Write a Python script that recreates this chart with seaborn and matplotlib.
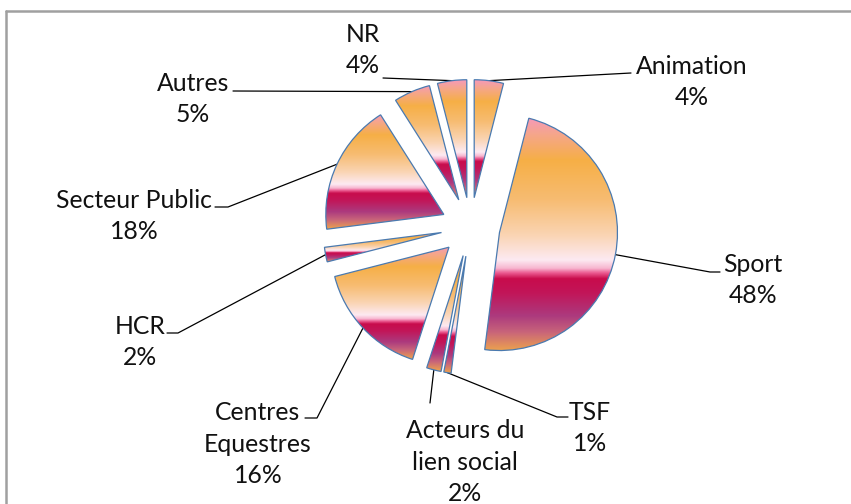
import numpy as np
import matplotlib.pyplot as plt
from matplotlib.colors import LinearSegmentedColormap
import seaborn as sns

# Data
labels = ["Animation", "Sport", "TSF", "Acteurs du\nlien social", "Centres\nEquestres",
          "HCR", "Secteur Public", "Autres", "NR"]
values = [4, 48, 1, 2, 16, 2, 18, 5, 4]

# Layout (figure pixels, origin top-left)
W, H = 851, 504
cx, cy, r = 470.5, 227, 118
label_pos = [(692, 82), (753, 280), (590, 428), (465, 462), (258, 444),
             (140, 342), (134, 216), (193, 99), (363, 50)]
leader_ends = [[(631, 73)], [(710, 272), (720, 272)], [(557, 417), (568, 417)],
               [(430, 403)], [(317, 418), (305, 418)], [(178, 333), (167, 333)],
               [(228, 207), (215, 207)], [(233, 91)], [(383, 78)]]


def px(x, y):
    return (x - cx) / r, (cy - y) / r


sns.set_style('white')
plt.rcParams['font.family'] = ['Lato', 'DejaVu Sans']

# gradient like the Excel preset fill
stops = [(0.00, '#F59AB8'), (0.07, '#F5A68A'), (0.18, '#F6AF46'), (0.35, '#F7BC72'),
         (0.50, '#FAD4B2'), (0.61, '#FDEAF2'), (0.645, '#F7B6D0'), (0.665, '#EC5C92'),
         (0.69, '#C80C4C'), (0.75, '#C21558'), (0.85, '#AC3A7E'), (0.92, '#C8647A'),
         (1.00, '#EDA24E')]
cmap = LinearSegmentedColormap.from_list('fire', stops)
grad = np.linspace(0, 1, 256).reshape(-1, 1)

fig = plt.figure(figsize=(W / 100, H / 100), dpi=100)
ax = fig.add_axes([0, 0, 1, 1])

wedges, _ = ax.pie(values, startangle=90, counterclock=False, radius=1,
                   explode=[0.25] * len(values),
                   wedgeprops=dict(edgecolor='#4A7AB0', linewidth=0.9, facecolor='none'))

for w in wedges:
    w.set_zorder(3)
    ext = w.get_path().get_extents()
    im = ax.imshow(grad, cmap=cmap, extent=[ext.x0, ext.x1, ext.y0, ext.y1],
                   origin='upper', aspect='auto', interpolation='bilinear', zorder=2)
    im.set_clip_path(w)

    # leader line from arc middle to the label
    mid = np.deg2rad((w.theta1 + w.theta2) / 2)
    x0 = w.center[0] + w.r * np.cos(mid)
    y0 = w.center[1] + w.r * np.sin(mid)
    i = wedges.index(w)
    pts = [(x0, y0)] + [px(*p) for p in leader_ends[i]]
    ax.plot([p[0] for p in pts], [p[1] for p in pts], color='black', lw=0.9, zorder=1)

    tx, ty = px(*label_pos[i])
    ax.text(tx, ty, f"{labels[i]}\n{values[i]}%", ha='center', va='center',
            fontsize=17.8, color='#111111', linespacing=1.45)

# chart area border (only top and left visible)
ax.plot([px(6, 0)[0], px(6, H + 10)[0]], [px(6, 11)[1], px(6, H + 10)[1]],
        color='#A0A0A0', lw=1.8, zorder=0)
ax.plot([px(6, 11)[0], px(W + 10, 11)[0]], [px(6, 11)[1], px(6, 11)[1]],
        color='#A0A0A0', lw=1.8, zorder=0)

ax.set_xlim(-cx / r, (W - cx) / r)
ax.set_ylim(-(H - cy) / r, cy / r)
ax.set_aspect('auto')
ax.axis('off')

plt.savefig('out.png', dpi=100)
